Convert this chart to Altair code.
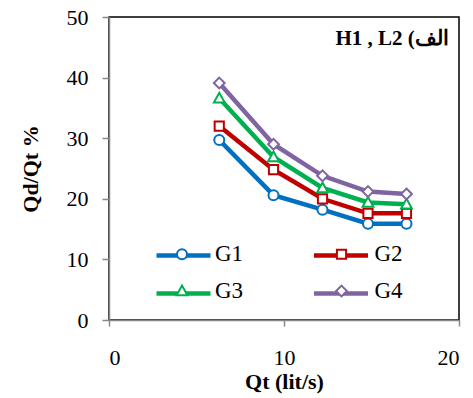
import altair as alt
import pandas as pd

qt = [6.3, 9.4, 12.2, 14.8, 17.0]
g1 = [29.7, 20.6, 18.2, 15.9, 15.9]
g2 = [32.0, 24.8, 20.0, 17.6, 17.6]
g3 = [36.6, 26.9, 21.8, 19.4, 19.1]
g4 = [39.1, 29.0, 23.8, 21.2, 20.8]
series = ["G1", "G2", "G3", "G4"]
colors = ["#0070C0", "#C00000", "#00B050", "#8064A2"]

rows = []
for name, vals in zip(series, [g1, g2, g3, g4]):
    for x, y in zip(qt, vals):
        rows.append({"Qt": x, "val": y, "series": name, "series2": name})
df = pd.DataFrame(rows)

# marker paths (unit box scaled by sqrt(size)/2 = 13.5 px)
circle = "M-0.37,0 A0.37,0.37 0 1,0 0.37,0 A0.37,0.37 0 1,0 -0.37,0 Z"
square = "M-0.34,-0.34 L0.34,-0.34 L0.34,0.34 L-0.34,0.34 Z"
triangle = "M0,-0.4 L0.4,0.32 L-0.4,0.32 Z"
diamond = "M0,-0.4 L0.4,0 L0,0.4 L-0.4,0 Z"
legend_line = "M-2,0 L2,0"

FONT = "Liberation Serif"
SYM = 729

common_legend = dict(
    orient="none", legendX=58.5, legendY=222.5, columns=2, direction="horizontal",
    rowPadding=10, symbolSize=SYM, labelFontSize=23, labelFont=FONT,
    labelOffset=18.5, padding=0, title=None, labelColor="black",
)

x_enc = alt.X("Qt:Q", scale=alt.Scale(domain=[0, 20]),
              axis=alt.Axis(values=[0, 10, 20], title="Qt (lit/s)"))
y_enc = alt.Y("val:Q", scale=alt.Scale(domain=[0, 50]),
              axis=alt.Axis(values=[0, 10, 20, 30, 40, 50], title="Qd/Qt %"))

lines = alt.Chart(df).mark_line(strokeWidth=4.5).encode(
    x=x_enc, y=y_enc,
    color=alt.Color("series:N", scale=alt.Scale(range=colors),
                    legend=alt.Legend(symbolType=legend_line, symbolStrokeWidth=4.5,
                                      labelExpr="''", columnPadding=85.5, **common_legend)),
)

points = alt.Chart(df).mark_point(filled=False, fill="white", strokeWidth=2, size=SYM, opacity=1).encode(
    x="Qt:Q", y="val:Q",
    stroke=alt.Stroke("series2:N", scale=alt.Scale(range=colors),
                      legend=alt.Legend(symbolStrokeWidth=2, symbolFillColor="white",
                                        columnPadding=83.5, **common_legend)),
    shape=alt.Shape("series2:N", scale=alt.Scale(range=[circle, square, triangle, diamond]),
                    legend=alt.Legend(symbolStrokeWidth=2, symbolFillColor="white",
                                      columnPadding=83.5, **common_legend)),
)

chart = alt.layer(lines, points).properties(
    width=350, height=303,
    padding={"left": 109, "top": 17, "right": 14, "bottom": 78},
    autosize=alt.AutoSizeParams(type="none"),
    title=alt.TitleParams("H1 , L2 (الف", anchor="end", orient="top", offset=-43,
                          dx=-11, font=FONT, fontSize=21, fontWeight="bold", color="black"),
).configure_view(stroke="black", strokeWidth=1.5).configure_axis(
    domainColor="#888888", tickColor="#888888", grid=False,
    labelFont=FONT, labelFontSize=22, labelColor="black",
    titleFont=FONT, titleFontSize=22, titleFontWeight="bold", titleColor="black",
    domainWidth=1.5, tickWidth=1.5,
).configure_axisX(
    tickSize=6, labelPadding=21, titlePadding=3,
).configure_axisY(
    tickSize=7, labelPadding=14, titlePadding=24,
)

chart.save("out.html", embed_options={"renderer": "svg", "actions": False})
